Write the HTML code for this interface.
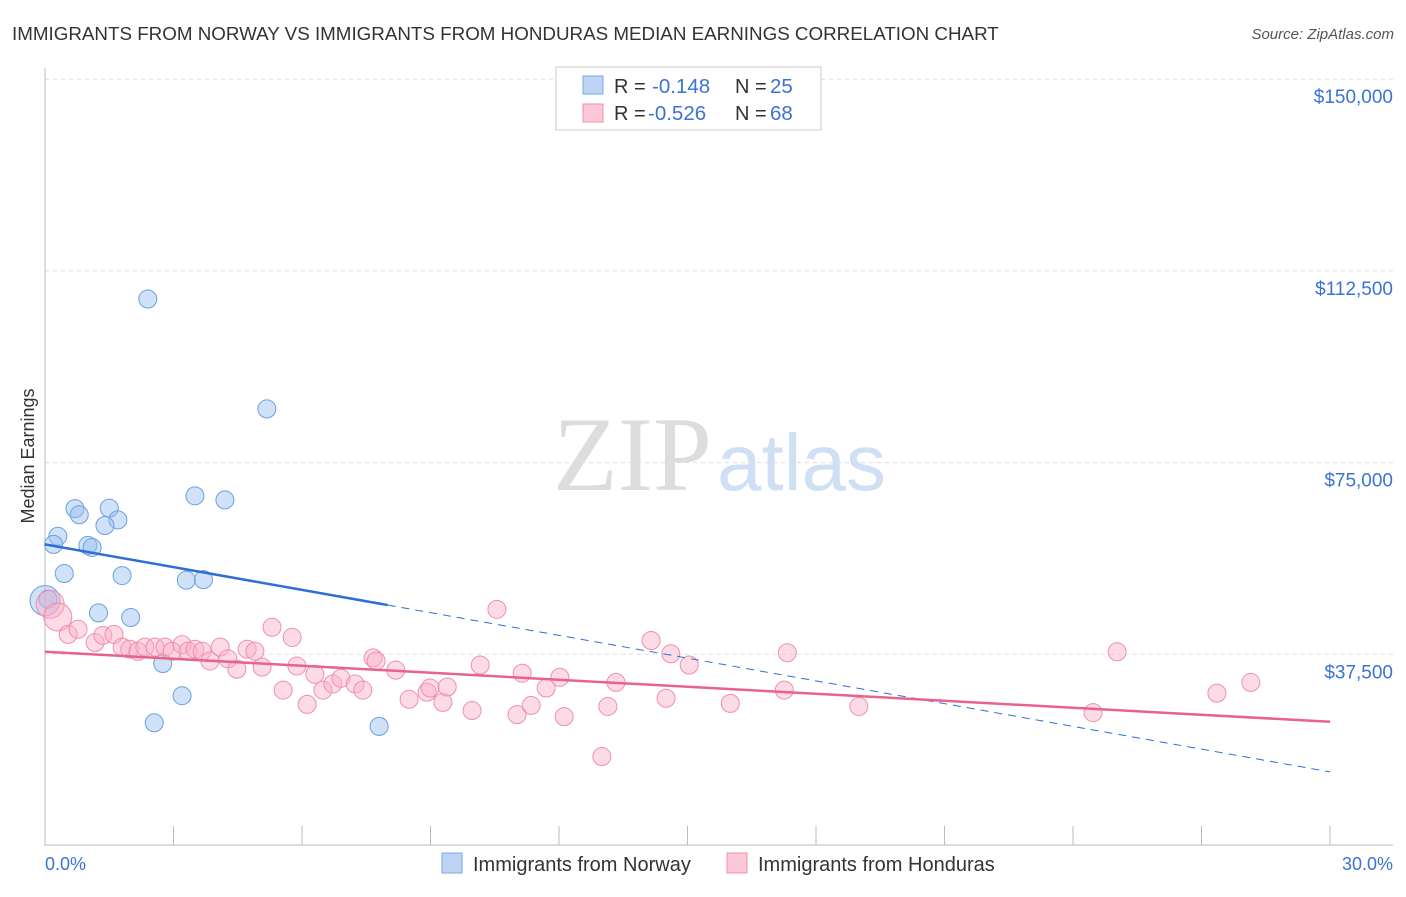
<!DOCTYPE html>
<html><head><meta charset="utf-8"><style>
body{margin:0;background:#fff;font-family:"Liberation Sans",sans-serif;}
</style></head><body>
<svg width="1406" height="892" xmlns="http://www.w3.org/2000/svg" font-family="Liberation Sans, sans-serif">
<text x="12" y="40" font-size="18.8" fill="#333">IMMIGRANTS FROM NORWAY VS IMMIGRANTS FROM HONDURAS MEDIAN EARNINGS CORRELATION CHART</text>
<text x="1394" y="39" font-size="15" fill="#555" text-anchor="end" font-style="italic">Source: ZipAtlas.com</text>
<text x="712" y="490" font-size="106" fill="#ddd" text-anchor="end" font-family="Liberation Serif, serif">ZIP</text>
<text x="717" y="490" font-size="80" fill="#cfe0f5">atlas</text>
<g id="grid"></g>
<line x1="45" y1="68" x2="45" y2="846" stroke="#bbb"/>
<line x1="45" y1="845" x2="1393" y2="845" stroke="#bbb"/>
<g id="xticks"></g>
<text x="34" y="456" font-size="18" fill="#333" text-anchor="middle" transform="rotate(-90 34 456)">Median Earnings</text>
<text x="45" y="870" font-size="18" fill="#3b73d4">0.0%</text>
<text x="1393" y="870" font-size="18" fill="#3b73d4" text-anchor="end">30.0%</text>
<g id="pts"></g>
<g id="trend"></g>
<g>
<rect x="556" y="67" width="265" height="63" fill="#fff" stroke="#ccc"/>
<rect x="583" y="76" width="20" height="18" fill="#bcd5f5" stroke="#7aa7e6"/>
<text x="614" y="93" font-size="20" fill="#333">R =</text>
<text x="652" y="93" font-size="20.5" fill="#3b73d4">-0.148</text>
<text x="735" y="93" font-size="20" fill="#333">N =</text>
<text x="770" y="93" font-size="20.5" fill="#3b73d4">25</text>
<rect x="583" y="104" width="20" height="18" fill="#fcc8d6" stroke="#f08fab"/>
<text x="614" y="120" font-size="20" fill="#333">R =</text>
<text x="648" y="120" font-size="20.5" fill="#3b73d4">-0.526</text>
<text x="735" y="120" font-size="20" fill="#333">N =</text>
<text x="770" y="120" font-size="20.5" fill="#3b73d4">68</text>
</g>
<g>
<rect x="442" y="853" width="20" height="20" fill="#bcd5f5" stroke="#7aa7e6"/>
<text x="473" y="871" font-size="20" fill="#333">Immigrants from Norway</text></g>
<g>
<rect x="727" y="853" width="20" height="20" fill="#fcc8d6" stroke="#f08fab"/>
<text x="758" y="871" font-size="20" fill="#333">Immigrants from Honduras</text></g>
</svg>
<script>
const yTicks=[37500,75000,112500,150000];
const yTickLabels=["$37,500","$75,000","$112,500","$150,000"];
const norwayX=[2.4,5.18,3.5,4.2,0.7,0.8,1.5,1.7,1.4,0.3,0.2,1.0,1.1,0.45,1.8,3.3,3.7,0.0,1.25,2.0,2.75,3.2,2.55,7.8,0.07];
const norwayY=[107000,85500,68500,67700,66000,64800,66100,63800,62700,60600,59000,58800,58400,53300,52900,52000,52100,48000,45600,44700,35700,29400,24100,23400,48300];
const hondX=[0.12,0.3,0.54,0.77,1.17,1.35,1.61,1.8,1.98,2.17,2.33,2.57,2.8,2.97,3.2,3.34,3.5,3.67,3.85,4.09,4.27,4.48,4.72,4.9,5.07,5.3,5.56,5.77,5.88,6.12,6.3,6.49,6.72,6.91,7.24,7.42,7.66,7.73,8.19,8.5,8.92,8.99,9.29,9.39,9.97,10.16,11.02,11.14,11.35,11.7,12.02,12.12,13.0,13.14,13.33,14.15,14.5,14.61,15.04,16.0,17.26,17.33,19.0,24.47,25.03,27.36,28.15,10.55];
const hondY=[47300,44800,41400,42400,39800,41200,41400,38900,38500,38100,38900,38900,38900,38100,39400,38100,38500,38100,36200,38900,36600,34600,38500,38100,35000,42800,30500,40800,35200,27700,33600,30500,31700,32800,31700,30500,36800,36200,34400,28700,30100,30900,28100,31100,26500,35400,25700,33800,27500,30900,33000,25300,17500,27300,32000,40200,28900,37600,35400,27900,30500,37800,27300,26100,38000,29900,32000,46300];
const norwayTrend=[59000,14500];
const hondTrend=[38000,24300];
const NS="http://www.w3.org/2000/svg";
const X=v=>45+v/30*1285, Y=v=>846-v/37500*191.7;
function mk(t,a,p){const e=document.createElementNS(NS,t);for(const k in a)e.setAttribute(k,a[k]);document.getElementById(p).appendChild(e);return e;}
yTicks.forEach((t,i)=>{
 const l=mk('line',{x1:45,x2:1393,y1:Y(t),y2:Y(t),stroke:'#ddd','stroke-dasharray':'4,4'},'grid');
 
 
 const tx=mk('text',{x:1393,y:Y(t)+24,'font-size':19,fill:'#3b73d4','text-anchor':'end'},'grid');
 tx.textContent=yTickLabels[i];
 
 
});
for(let i=0;i<=10;i++){
 const l=mk('line',{x1:X(i*3),x2:X(i*3),y1:826,y2:845,stroke:'#bbb'},'xticks');
 
 
}
norwayX.forEach((x,i)=>{
 const r=(x===0)?15:9;
 const c=mk('circle',{cx:X(x),cy:Y(norwayY[i]),r:r,fill:'rgba(150,190,240,0.45)',stroke:'#6d9fe0','stroke-width':1},'pts');
 
 
});
hondX.forEach((x,i)=>{
 const r=(i<2)?14:9;
 const c=mk('circle',{cx:X(x),cy:Y(hondY[i]),r:r,fill:'rgba(250,175,200,0.45)',stroke:'#ef8fab','stroke-width':1},'pts');
 
 
});
const nAt=x=>norwayTrend[0]+(norwayTrend[1]-norwayTrend[0])*x/30;
let l=mk('line',{x1:X(0),y1:Y(nAt(0)),x2:X(8),y2:Y(nAt(8)),stroke:'#2d6fd6','stroke-width':2.5},'trend');


l=mk('line',{x1:X(8),y1:Y(nAt(8)),x2:X(30),y2:Y(nAt(30)),stroke:'#2d6fd6','stroke-width':1,'stroke-dasharray':'8,6'},'trend');


l=mk('line',{x1:X(0),y1:Y(hondTrend[0]),x2:X(30),y2:Y(hondTrend[1]),stroke:'#e8638c','stroke-width':2.5},'trend');


</script>
</body></html>
